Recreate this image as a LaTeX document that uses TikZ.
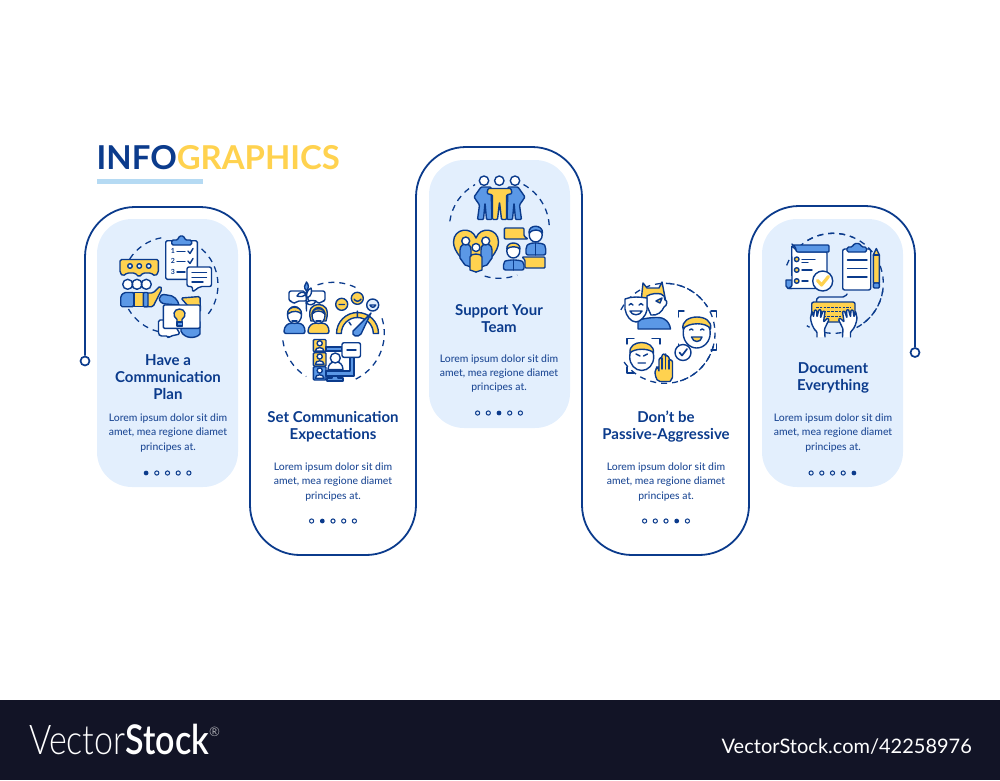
\documentclass[tikz,border=0pt]{standalone}
\usepackage{fontspec}
\setmainfont{Lato}
\newfontfamily\lightf{Lato Light}
\newfontfamily\medf{Lato Medium}
\definecolor{nv}{HTML}{0B3B8C}
\definecolor{tx}{HTML}{204B96}
\definecolor{bl}{HTML}{5B98E6}
\definecolor{ye}{HTML}{FFD24F}
\definecolor{pn}{HTML}{E3EFFD}
\definecolor{ul}{HTML}{B5DAF3}
\definecolor{ft}{HTML}{121426}
\tikzset{
 ln/.style={draw=nv,line width=1.4pt,line join=round,line cap=round},
 fb/.style={ln,fill=bl},
 fy/.style={ln,fill=ye},
 fw/.style={ln,fill=white},
 fp/.style={ln,fill=pn},
 dsh/.style={draw=nv,line width=1.3pt,dash pattern=on 6pt off 5pt},
 route/.style={draw=nv,line width=1.8pt,rounded corners=50pt},
 endc/.style={circle,draw=nv,line width=1.7pt,fill=white,inner sep=0pt,minimum size=9pt},
 panel/.style={fill=pn,rounded corners=35pt,minimum width=141pt,minimum height=268pt,inner sep=0pt},
 head/.style={font=\fontsize{15}{17}\selectfont\bfseries,text=nv,align=center,inner sep=0pt},
 body/.style={font=\fontsize{10.4}{14.3}\selectfont\medf,text=tx,align=center,inner sep=0pt},
}
\newcommand{\darc}[5]{\draw[dsh] ([shift={(#1,#2)}]#4:#3pt) arc[start angle=#4,end angle=#5,radius=#3pt];}
\newcommand{\dotsrow}[3]{%
 \foreach \i in {1,...,5}{%
  \pgfmathsetmacro{\dx}{#1+(\i-3)*10.7}%
  \ifnum\i=#3\relax
   \fill[nv] (\dx,#2) circle[radius=2.4pt];
  \else
   \draw[draw=nv,line width=1pt] (\dx,#2) circle[radius=2.1pt];
  \fi}}
\begin{document}
\begin{tikzpicture}[x=1pt,y=-1pt]
\useasboundingbox (0,0) rectangle (1000,780);
% panels
\node[panel] (p1) at (167.5,353) {};
\node[panel] (p3) at (499.5,294) {};
\node[panel] (p5) at (832.5,353) {};
% route
\node[endc] (s) at (85,361) {};
\node[endc] (e) at (915,352.5) {};
\draw[route] (s.north) -- (85,207) -- (250,207) -- (250,555) -- (416,555) -- (416,147) -- (582,147) -- (582,555) -- (749,555) -- (749,206) -- (915,206) -- (e.north);
% title
\node[anchor=base west,inner sep=0pt,font=\fontsize{32.9}{36}\selectfont\bfseries] (title) at (96.5,169) {\textcolor{nv}{INFO}\textcolor{ye}{GRAPHICS}};
\fill[ul] (97,179) rectangle (203,184);
% texts
\node[head] (h1) at (168,377) {Have a\\Communication\\Plan};
\node[body] (b1) at (168,433) {Lorem ipsum dolor sit dim\\amet, mea regione diamet\\principes at.};
\dotsrow{167.5}{473}{1}
\node[head] (h2) at (333,426.5) {Set Communication\\Expectations};
\node[body] (b2) at (333,482) {Lorem ipsum dolor sit dim\\amet, mea regione diamet\\principes at.};
\dotsrow{333}{521}{2}
\node[head] (h3) at (499,319) {Support Your\\Team};
\node[body] (b3) at (499,373.5) {Lorem ipsum dolor sit dim\\amet, mea regione diamet\\principes at.};
\dotsrow{499}{413}{3}
\node[head] (h4) at (666,426.5) {Don’t be\\Passive-Aggressive};
\node[body] (b4) at (666,482) {Lorem ipsum dolor sit dim\\amet, mea regione diamet\\principes at.};
\dotsrow{666}{521}{4}
\node[head] (h5) at (833,378) {Document\\Everything};
\node[body] (b5) at (833,433) {Lorem ipsum dolor sit dim\\amet, mea regione diamet\\principes at.};
\dotsrow{832.5}{473}{5}
%% ICON 1
\darc{170}{285}{48}{147}{100}
\darc{170}{285}{48}{49}{-38}
\darc{170}{285}{48}{-104}{-150}
% clipboard
\draw[fw,rounded corners=1.5pt] (165.7,240.7) rectangle (197.3,279.3);
\draw[fb,rounded corners=1.5pt] (171.7,245) -- (171.7,240) -- (178,240) -- (179,236) -- (184,236) -- (185,240) -- (191.7,240) -- (191.7,245) -- cycle;
\node[inner sep=0pt,font=\fontsize{7}{7}\selectfont\bfseries,text=nv] (n1) at (173,251) {1};
\node[inner sep=0pt,font=\fontsize{7}{7}\selectfont\bfseries,text=nv] (n2) at (173,261) {2};
\node[inner sep=0pt,font=\fontsize{7}{7}\selectfont\bfseries,text=nv] (n3) at (173,272) {3};
\draw[ln] (177,251.5) -- (185,251.5) (177,261.5) -- (185,261.5) (177,272) -- (185,272);
\draw[ln] (188,251) -- (190,253.5) -- (193,248.5) (188,261) -- (190,263.5) -- (193,258.5);
% white bubble
\draw[fw,rounded corners=2pt] (187,267) -- (211.5,267) -- (211.5,286.5) -- (200,286.5) -- (192.5,292) -- (192.5,286.5) -- (187,286.5) -- cycle;
\draw[ln] (192,272.7) -- (206.5,272.7) (192,277.3) -- (206.5,277.3) (192,282) -- (203,282);
% yellow bubble
\draw[fy,rounded corners=1.5pt] (120,259.5) -- (158.3,259.5) -- (158.3,272.7) -- (155,276) -- (151,273) -- (143,273) -- (139,277) -- (135,273) -- (127,273) -- (123,276) -- (120,272.7) -- cycle;
\foreach \a in {130,139.3,148.7}{\draw[fp] (\a,266) circle[radius=2.3pt];}
% people
\draw[fy,rounded corners=1.5pt] (153,293) -- (160,286) -- (162,289) -- (153,306.7) -- (143,306.7) -- (143,293) -- cycle;
\draw[fb,rounded corners=1.5pt] (134,292.5) -- (124,292.5) -- (120.7,296) -- (120.7,306.7) -- (134,306.7) -- cycle;
\draw[fy] (134,292.5) rectangle (143.3,306.7);
\draw[fb,rounded corners=1pt] (143.3,292.5) -- (148,292.5) -- (148,306.7) -- (143.3,306.7) -- cycle;
\draw[fw] (127.7,284.3) circle[radius=5pt] (137,284.3) circle[radius=5pt] (146.3,284.3) circle[radius=5pt];
% ideas
\draw[fb] (166,304) .. controls (157,304) and (157,292) .. (167,295) .. controls (174,295) and (178,300) .. (179,305) -- cycle;
\draw[fy,rounded corners=1.5pt] (181,298) -- (200,296.5) -- (200.5,312) -- (188,306) -- cycle;
\draw[fb] (181,325) -- (200,322) -- (200,334) .. controls (196,339) and (184,339) .. (181,331) -- cycle;
\draw[fw,rounded corners=1.5pt] (158.5,320) -- (172,320) -- (180,334) -- (171,336) -- (168,338) -- (168,336) -- (160,336) -- (158.5,334) -- cycle;
\draw[fw,rounded corners=1.2pt] (163.3,305) rectangle (200,328.3);
\draw[fy] (177,322) -- (177,319.5) .. controls (172,316) and (173.5,309) .. (179.5,309) .. controls (185.5,309) and (187,316) .. (182,319.5) -- (182,322) -- cycle;
\draw[fb] (176.8,322) rectangle (182.2,326);
%% ICON 2
\darc{333.3}{333.3}{51}{108}{62}
\darc{333.3}{333.3}{51}{17}{-68}
\darc{333.3}{333.3}{51}{-172}{-122}
% bubbles & branch
\draw[fw,rounded corners=2pt] (289,291) -- (305,291) -- (307,301) -- (297,301) -- (294,304) -- (292,301) -- (289,301) -- cycle;
\draw[fw,rounded corners=2pt] (308,291) -- (325,291) -- (325,301) -- (322,301) -- (319,304) -- (317,301) -- (308,301) -- cycle;
\draw[ln] (306.5,311) .. controls (306,300) and (307,292) .. (306.5,286);
\draw[fb] (306.5,291) .. controls (303,287) and (305,285) .. (306.5,282) .. controls (309,285) and (309,288) .. (306.5,291);
\draw[fw] (306,294) .. controls (303,291) and (299,292) .. (297,296) .. controls (301,297) and (303,297) .. (306,294);
\draw[fw] (307,298) .. controls (312,296) and (312,291) .. (311,288) .. controls (307,290) and (306,294) .. (307,298);
\draw[fw] (306,303) .. controls (310,306) and (314,305) .. (316,301) .. controls (312,300) and (309,300) .. (306,303);
% people
\draw[fb,rounded corners=2pt] (284,333.5) .. controls (284,326) and (288,324) .. (291,323) -- (298,323) .. controls (302,324) and (305,326) .. (305,333.5) -- cycle;
\draw[fy,rounded corners=2pt] (308,333.5) .. controls (308,326) and (312,324) .. (315,323) -- (322,323) .. controls (326,324) and (329,326) .. (329,333.5) -- cycle;
\draw[fw] (294.5,315) ellipse[x radius=7pt,y radius=8.5pt];
\draw[fy] (287.5,314) .. controls (287,305) and (302,305) .. (301.5,314) .. controls (299,311) and (293,310) .. (287.5,314) -- cycle;
\draw[ln] (292,321) -- (297,321);
\draw[fy] (311,321) .. controls (307,308) and (313,304.5) .. (318.5,304.5) .. controls (324,304.5) and (330,308) .. (326,321) -- cycle;
\draw[fw] (318.5,315.5) ellipse[x radius=6.5pt,y radius=8pt];
\draw[fy] (312,314) .. controls (312,307) and (325,307) .. (325,314) .. controls (321,310) and (316,310) .. (312,314) -- cycle;
\draw[ln] (316,321) -- (321,321);
% gauge
\draw[fy] (336.5,333.5) arc[start angle=180,end angle=0,radius=21pt] -- (373.3,333.5) arc[start angle=0,end angle=180,radius=16pt] -- cycle;
\draw[ln] (349,322) -- (351,325) (357.3,311) -- (357.3,317) (367,319) -- (365,322);
\draw[fb] (353,331) .. controls (351,336) and (358,338) .. (361,334) -- (371,313) -- cycle;
\draw[fy] (341.7,304.3) circle[radius=6pt] (357.3,298.3) circle[radius=6pt];
\draw[fp] (372.7,305) circle[radius=6pt];
\draw[ln] (339,304.5) -- (344.5,304.5) (354,299) .. controls (356,302) and (359,302) .. (361,299);
\draw[ln] (370,305) .. controls (371,308) and (374.5,308) .. (375.7,305) -- cycle;
% avatars
\draw[fy,rounded corners=1pt] (313.3,339.5) rectangle (326,351.7);
\draw[fy,rounded corners=1pt] (313.3,352.7) rectangle (326,366);
\draw[fb,rounded corners=1pt] (313.3,366.7) rectangle (326,380);
\foreach \a in {339.5,352.7,366.7}{
 \draw[fw] (319.7,\a+3.8) circle[radius=2.6pt];
 \draw[fw] (315.3,\a+11.5) .. controls (315.3,\a+7) and (324,\a+7) .. (324,\a+11.5) -- cycle;}
\draw[fb] (326,347) -- (342,347) -- (342,351) -- (326,351) -- cycle;
\draw[fb] (350,357) -- (354,357) -- (354,376) -- (326,376) -- (326,371) -- (350,371) -- cycle;
\draw[fw,rounded corners=2pt] (342,342.7) -- (360.5,342.7) -- (360.5,357.3) -- (342,357.3) -- cycle;
\draw[ln] (347,350) -- (356,350);
\draw[fw] (328,369.5) .. controls (328,359) and (343,359) .. (343,369.5) -- cycle;
\draw[fw] (335.3,358) circle[radius=5pt];
\draw[fb] (327,381) -- (343,381) -- (343,378) -- (338,378) -- (338,376) -- (332,376) -- (332,378) -- (327,378) -- cycle;
%% ICON 3
\darc{499.3}{228.3}{50}{172}{119}
\darc{499.3}{228.3}{50}{61}{2}
\darc{499.3}{228.3}{50}{-107}{-69}
% team
\draw[fb,rounded corners=1pt] (481,187) -- (491,187) -- (492,219.5) -- (486.5,219.5) -- (485,203) -- (483.5,219.5) -- (477.5,219.5) -- (479.5,205) -- (474,197) -- cycle;
\draw[fb,rounded corners=1pt] (508,187) -- (518,187) -- (525,197) -- (519.5,205) -- (521.5,219.5) -- (515.5,219.5) -- (514,203) -- (512.5,219.5) -- (507,219.5) -- cycle;
\draw[fy,rounded corners=1pt] (488,188.5) -- (511,188.5) -- (512,193.5) -- (506.5,195) -- (506.5,219.5) -- (501.5,219.5) -- (499.5,202) -- (497.5,219.5) -- (492.5,219.5) -- (492.5,195) -- (487,193.5) -- cycle;
\draw[fw] (484,180.7) circle[radius=4.7pt] (499.3,180.7) circle[radius=4.7pt] (515,180.7) circle[radius=4.7pt];
% heart
\draw[fy] (476,272) .. controls (464,262) and (453.5,252) .. (453.5,242) .. controls (453.5,228) and (472,226) .. (476,238) .. controls (480,226) and (498.5,228) .. (498.5,242) .. controls (498.5,252) and (488,262) .. (476,272) -- cycle;
\draw[fb] (460,258) -- (460,250) .. controls (460,245) and (464,244) .. (466,244) .. controls (468,244) and (471,245) .. (471,250) -- (471,267) -- (465,265) -- cycle;
\draw[fb] (492,258) -- (492,250) .. controls (492,245) and (488,244) .. (486,244) .. controls (484,244) and (481,245) .. (481,250) -- (481,267) -- (487,265) -- cycle;
\draw[fw] (465.7,241) circle[radius=4pt] (485.7,241) circle[radius=4pt];
\draw[fy] (470,270) -- (470,257) .. controls (470,253) and (482,253) .. (482,257) -- (482,270) -- (476,272) -- cycle;
\draw[fw] (476,247.5) circle[radius=4pt];
% office
\draw[fy,rounded corners=1pt] (504.3,228) -- (524,228) -- (524,236) -- (528,239) -- (504.3,239) -- cycle;
\draw[fb,rounded corners=2pt] (526,255) -- (526,247) .. controls (528,244) and (532,243) .. (535.7,243) .. controls (540,243) and (544,244) .. (545.7,247) -- (545.7,255) -- cycle;
\draw[fp] (535.7,243) -- (535.7,255);
\draw[fw] (535.7,235) ellipse[x radius=6.5pt,y radius=7pt];
\draw[fb] (529,233) .. controls (528,224) and (543,224) .. (542.5,233) .. controls (539,229) and (533,229) .. (529,233) -- cycle;
\draw[fb,rounded corners=2pt] (503.5,270) -- (503.5,263) .. controls (505,261) and (509,260) .. (513.3,260) .. controls (518,260) and (522,261) .. (524,263) -- (524,270) -- cycle;
\draw[fy] (513.3,260) -- (513.3,270);
\draw[fw] (513.3,251) ellipse[x radius=6.5pt,y radius=7pt];
\draw[fy] (506.8,249) .. controls (506,241) and (520.6,241) .. (520,249) .. controls (517,246) and (510,246) .. (506.8,249) -- cycle;
\draw[fy,rounded corners=1pt] (525,257) -- (545,257) -- (545,268) -- (525,268) -- (525,260) -- (522,257) -- cycle;
%% ICON 4
\darc{665}{333.3}{50}{86}{33}
\darc{665}{333.3}{50}{152}{-146}
\darc{665}{333.3}{50}{-15}{-78}
% devil
\draw[fb] (638,329) -- (638,320) .. controls (646,318) and (660,316) .. (664,319) .. controls (668,321) and (670,325) .. (670.5,329) -- cycle;
\draw[fy] (641,302) -- (643,283) -- (647,288) -- (659,288) -- (662,282) -- (665.5,300) -- cycle;
\draw[fw] (647,306) -- (647,296) .. controls (651,293.5) and (657,293) .. (661,294) .. controls (664,295) and (665,297) .. (665,300) .. controls (668,300) and (667,306) .. (664,307) .. controls (662,312) and (657,316) .. (651,315) -- cycle;
\draw[fy] (656,301) -- (662,298) -- (660,303) -- cycle;
% mask
\draw[fw] (625,299) .. controls (632,296) and (640,297) .. (647,298) -- (647,310) .. controls (646,316) and (640,322) .. (636,322) .. controls (631,322) and (626,316) .. (625,309) -- cycle;
\draw[ln] (629,305) .. controls (630,303) and (632,303) .. (633,305) (639,305) .. controls (640,303) and (642,303) .. (643,305);
\draw[fw] (630,311) -- (642,311) .. controls (640,316) and (632,316) .. (630,311) -- cycle;
% right face
\draw[ln] (678.3,317) -- (678.3,311) -- (684,311) (711,311) -- (716.7,311) -- (716.7,317) (678.3,344) -- (678.3,350) (711,350) -- (716.7,350) -- (716.7,344);
\draw[fw] (696.7,333) ellipse[x radius=13.5pt,y radius=15pt];
\draw[fy] (683,329) .. controls (680,313) and (714,313) .. (710.5,329) .. controls (707,322) and (688,322) .. (683,329) -- cycle;
\draw[ln] (689.5,330) .. controls (690.5,328.5) and (692.5,328.5) .. (693,330) (700.5,330) .. controls (701.5,328.5) and (703,328.5) .. (704,330);
\draw[fy] (691.5,337) -- (702,337) .. controls (701,343) and (693,343) .. (691.5,337) -- cycle;
\draw[fw] (683,352.5) circle[radius=8pt];
\draw[ln,line width=1.7pt] (679.5,352.5) -- (682,355.5) -- (687,349);
% left face
\draw[ln] (627,344) -- (627,338.5) -- (634,338.5) (652,338.5) -- (660,338.5) -- (660,344) (627,367) -- (627,373) -- (634,373);
\draw[fw] (641.7,357) ellipse[x radius=12pt,y radius=13.5pt];
\draw[fy] (630,353) .. controls (628,339) and (655,339) .. (653.5,353) .. controls (650,348) and (634,348) .. (630,353) -- cycle;
\draw[ln] (636,354) -- (640,356) (647.5,354) -- (643.5,356) (638,363) -- (645.5,363);
% hand
\draw[fy,rounded corners=2pt] (658,381.5) .. controls (655,376) and (655,372) .. (655.5,370) -- (657,367) -- (658.5,367) -- (659,372) -- (659,358) -- (662,358) -- (662,354) -- (665.5,354) -- (665.5,356) -- (669,356) -- (669,360) -- (672.5,360) -- (672.5,375) .. controls (672.5,378) and (670,381.5) .. (668,381.5) -- cycle;
\draw[ln] (662,358) -- (662,369) (665.5,356) -- (665.5,369) (669,360) -- (669,369);
%% ICON 5
\darc{833.3}{283.3}{50}{121}{66}
\darc{833.3}{283.3}{50}{159}{-122}
\darc{833.3}{283.3}{50}{-8}{-57}
% document
\draw[fb] (786,280) -- (792,280) -- (792,288.5) -- (788,288.5) -- (786,286) -- cycle;
\draw[fw,rounded corners=1pt] (791.7,245.5) -- (798,252) -- (798,252) -- (827,252) -- (827,285) -- (826,288.5) -- (788,288.5) .. controls (791,287) and (792,286) .. (792,284) -- cycle;
\draw[fb,rounded corners=1pt] (792,245) -- (829,245) -- (829,252) -- (796.5,252) .. controls (796,248) and (795,246) .. (792,245) -- cycle;
\foreach \a/\b in {259.3/815,270/812,281/808}{
 \draw[fy] (796.7,\a) circle[radius=2.3pt];
 \draw[ln] (802,\a) -- (\b,\a);}
\draw[ln] (802,262.5) -- (808,262.5);
\draw[fw] (822.7,281) circle[radius=10pt];
\draw[draw=ye,line width=3.2pt,line cap=round,line join=round] (817.5,280.5) -- (821.5,285) -- (828.5,276.5);
% clipboard
\draw[fw,rounded corners=2pt] (842.7,249) rectangle (870.7,290);
\draw[fb,rounded corners=1.5pt] (847,252) -- (847,247) -- (852.5,247) -- (854,243.5) -- (860,243.5) -- (861.5,247) -- (866.5,247) -- (866.5,252) -- cycle;
\draw[ln] (847.5,260) -- (867,260) (847.5,268.5) -- (867,268.5) (847.5,277) -- (867,277);
% pencil
\draw[fy] (873.3,283) -- (873.3,255) -- (876.3,248.5) -- (879.3,255) -- (879.3,283) -- cycle;
\draw[fb,rounded corners=1pt] (873.3,283) rectangle (879.3,288);
\draw[ln] (873.3,255) -- (879.3,255);
% cord
\draw[ln,rounded corners=2pt] (847,294) -- (845,297) -- (817,297) -- (816.5,302);
% keyboard
\draw[fy,rounded corners=2pt] (811.7,302) rectangle (855,322);
\foreach \a in {307,311.5,316}{\draw[draw=nv,line width=1pt,dash pattern=on 2.5pt off 1.3pt] (816,\a) -- (851,\a);}
% hands
\foreach \m/\c in {1/820,-1/847.5}{
\begin{scope}[shift={(\c,0)},xscale=\m]
\draw[fw,rounded corners=.8pt] (-3,337) -- (-3,332) .. controls (-7.5,328) and (-9,322) .. (-9.5,318) -- (-8,311) -- (-6.5,317) -- (-5.5,310) -- (-3.5,310) -- (-3,317) -- (-1,309.5) -- (1,310) -- (.5,318) -- (3,311) -- (5,311.5) -- (3.5,322) -- (7.5,318) -- (9,319.5) -- (4.5,329) -- (5,337);
\end{scope}}
%% footer
\fill[ft] (0,700) rectangle (1000,780);
\node[anchor=base west,inner sep=0pt,text=white,font=\fontsize{41}{45}\selectfont\lightf,xscale=.83] (vs) at (29,754) {Vector\bfseries Stock};
\node[anchor=base west,inner sep=0pt,text=white,font=\fontsize{13}{14}\selectfont\lightf] (reg) at (209,736) {®};
\node[anchor=base east,inner sep=0pt,text=white,font=\fontsize{20}{22}\selectfont] (vu) at (972,753) {VectorStock.com/42258976};
\end{tikzpicture}
\end{document}
